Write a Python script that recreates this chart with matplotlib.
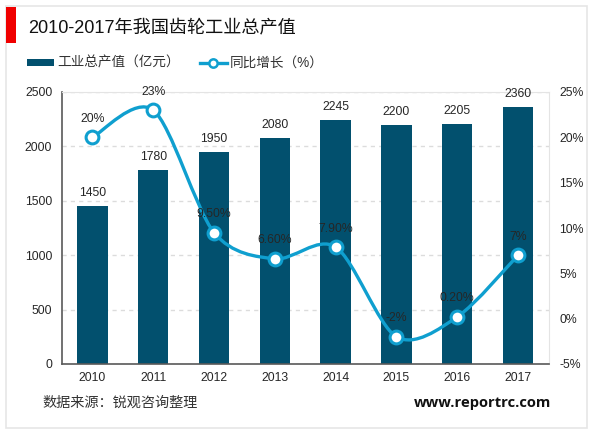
import matplotlib
matplotlib.use('Agg')
import matplotlib.pyplot as plt
from matplotlib.patches import PathPatch, Rectangle
from matplotlib.path import Path
from matplotlib.lines import Line2D

plt.rcParams['font.family'] = ['Liberation Sans', 'Noto Sans CJK SC', 'DejaVu Sans']

years = ['2010', '2011', '2012', '2013', '2014', '2015', '2016', '2017']
output_value = [1450, 1780, 1950, 2080, 2245, 2200, 2205, 2360]
growth = [20, 23, 9.5, 6.6, 7.9, -2, 0.2, 7]
growth_labels = ['20%', '23%', '9.50%', '6.60%', '7.90%', '-2%', '0.20%', '7%']
left_ticks = [0, 500, 1000, 1500, 2000, 2500]
right_ticks = [-5, 0, 5, 10, 15, 20, 25]

BAR = '#02506e'
LINE = '#0f9fcf'
TEXT = '#262626'
W, H = 600, 433

fig = plt.figure(figsize=(6, 4.33), dpi=100)

# outer frame and red title marker, in pixels from top left
fig.add_artist(Rectangle((6 / W, 1 - 428 / H), 581 / W, 422 / H, transform=fig.transFigure,
                         fc='white', ec='#e6e6e6', lw=1.2, zorder=-2))
fig.add_artist(Rectangle((6 / W, 1 - 43 / H), 10 / W, 36 / H, transform=fig.transFigure,
                         fc='#f00000', ec='none', zorder=-1))

ax = fig.add_axes([62 / W, 1 - 364 / H, 486.5 / W, 272 / H])
ax.patch.set_alpha(0)
x = list(range(len(years)))
ax.bar(x, output_value, width=0.5, color=BAR, zorder=2)
ax.set_xlim(-0.5, 7.5)
ax.set_ylim(0, 2500)
ax.set_xticks(x, years)
ax.set_yticks(left_ticks)
ax.grid(axis='y', color='#dcdcdc', lw=1, ls=(0, (3, 3)), zorder=0)
ax.tick_params(axis='both', length=0, labelsize=8.8, labelcolor=TEXT, pad=6)
ax.tick_params(axis='y', pad=7)
ax.spines['top'].set_color('#e4e4e4')
ax.spines['right'].set_color('#e4e4e4')
ax.spines['left'].set_color('#595959')
ax.spines['bottom'].set_color('#595959')
ax.spines['left'].set_linewidth(1.2)
ax.spines['bottom'].set_linewidth(1.2)
ax.set_axisbelow(True)

for i, v in enumerate(output_value):
    ax.annotate(str(v), (i, v), xytext=(0, 5), textcoords='offset points',
                ha='center', va='bottom', fontsize=8.7, color=TEXT, zorder=6)

ax2 = ax.twinx()
ax2.set_ylim(-5, 25)
ax2.set_yticks(right_ticks, [f'{t}%' for t in right_ticks])
ax2.tick_params(axis='y', length=0, labelsize=8.8, labelcolor=TEXT, pad=8)
for s in ax2.spines.values():
    s.set_visible(False)

# smooth line as bezier segments through the points
verts = [(x[0], growth[0])]
codes = [Path.MOVETO]
n = len(x)
for i in range(n - 1):
    p0 = (x[max(i - 1, 0)], growth[max(i - 1, 0)])
    p1 = (x[i], growth[i])
    p2 = (x[i + 1], growth[i + 1])
    p3 = (x[min(i + 2, n - 1)], growth[min(i + 2, n - 1)])
    k = 0.15
    verts += [(p1[0] + k * (p2[0] - p0[0]), p1[1] + k * (p2[1] - p0[1])),
              (p2[0] - k * (p3[0] - p1[0]), p2[1] - k * (p3[1] - p1[1])),
              p2]
    codes += [Path.CURVE4] * 3
ax2.add_patch(PathPatch(Path(verts, codes), fc='none', ec=LINE, lw=2.4, zorder=3))
ax2.plot(x, growth, ls='none', marker='o', ms=9.2, mfc='white', mec=LINE, mew=2.2, zorder=4)

for i, (g, lab) in enumerate(zip(growth, growth_labels)):
    ax2.annotate(lab, (i, g), xytext=(0, 9), textcoords='offset points',
                 ha='center', va='bottom', fontsize=8.8, color=TEXT, zorder=6)

fig.text(28 / W, 1 - 29 / H, '2010-2017年我国齿轮工业总产值', fontsize=13.1, color='#111111', va='center')

handles = [Rectangle((0, 0), 1, 1, fc=BAR, ec='none'),
           Line2D([0], [0], color=LINE, lw=2.4, marker='o', ms=6, mfc='white', mec=LINE, mew=1.8)]
fig.legend(handles, ['工业总产值（亿元）', '同比增长（%）'], loc='center left',
           bbox_to_anchor=(27 / W, 1 - 63 / H), ncol=2, frameon=False, fontsize=9.8,
           labelcolor='#333333', handlelength=1.95, handleheight=0.4, handletextpad=0.25,
           columnspacing=1.5, borderpad=0, borderaxespad=0)

fig.text(42.5 / W, 1 - 403 / H, '数据来源：锐观咨询整理', fontsize=10.2, color='#333333', va='center')
fig.text(551 / W, 1 - 403 / H, 'www.reportrc.com', fontsize=10.6, color='#111111',
         va='center', ha='right', fontweight='bold', family=['Open Sans', 'DejaVu Sans'])

fig.savefig('out.png', dpi=100)
